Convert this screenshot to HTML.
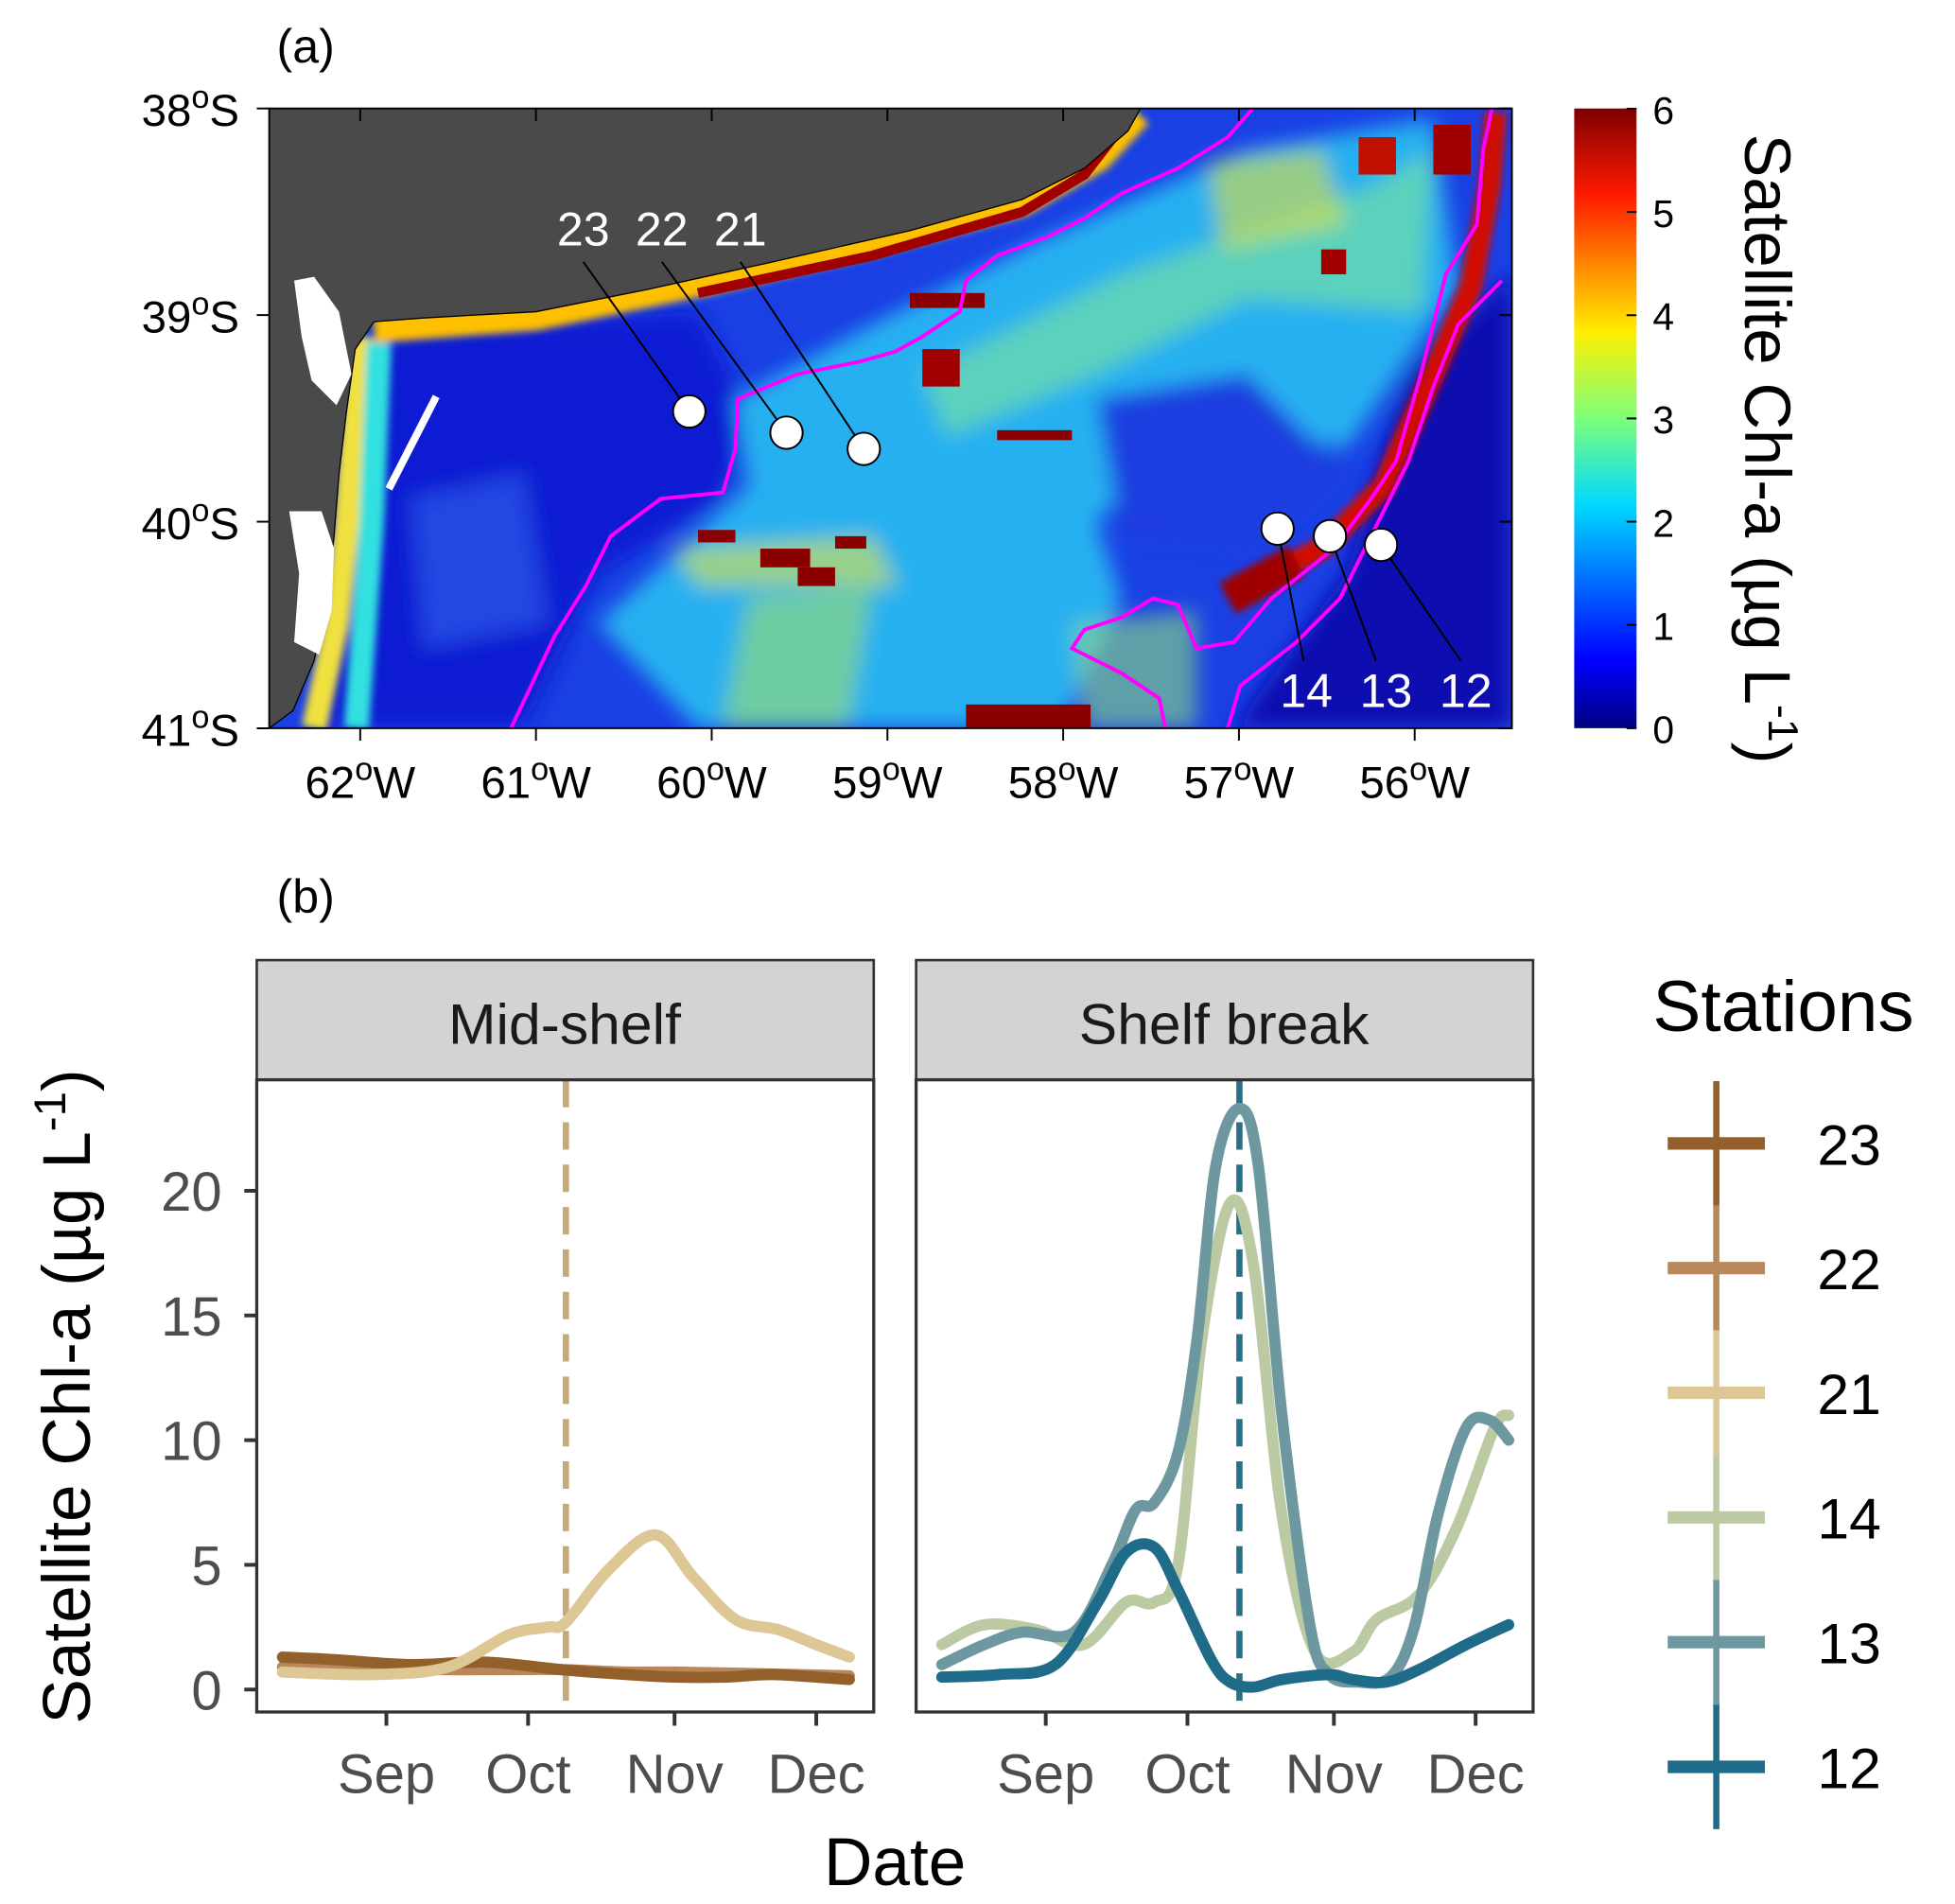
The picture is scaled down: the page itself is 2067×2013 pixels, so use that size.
<!DOCTYPE html>
<html><head><meta charset="utf-8">
<style>
html,body{margin:0;padding:0;background:#fff;}
svg{display:block;font-family:"Liberation Sans",sans-serif;}
</style></head>
<body>
<svg id="fig" width="2067" height="2013" viewBox="0 0 1568.5 1527" preserveAspectRatio="none" xmlns="http://www.w3.org/2000/svg">
<defs>
<linearGradient id="jet" x1="0" y1="1" x2="0" y2="0">
<stop offset="0" stop-color="#00007f"/><stop offset="0.11" stop-color="#0000ff"/>
<stop offset="0.36" stop-color="#00d8ff"/><stop offset="0.5" stop-color="#7dff7a"/>
<stop offset="0.64" stop-color="#ffee00"/><stop offset="0.86" stop-color="#ff1a00"/>
<stop offset="1" stop-color="#7f0000"/></linearGradient>
<filter id="bl" x="-20%" y="-20%" width="140%" height="140%"><feGaussianBlur stdDeviation="8"/></filter>
<filter id="bl2"><feGaussianBlur stdDeviation="3"/></filter>
<clipPath id="mapclip"><rect x="216" y="87" width="997" height="497"/></clipPath>
</defs>
<text x="222" y="50" font-size="38">(a)</text>
<g clip-path="url(#mapclip)">
<rect x="216" y="87" width="997" height="497" fill="#1a40e4"/>
<g filter="url(#bl)">
<polygon points="300,262 560,250 600,330 580,400 480,460 420,584 260,584" fill="#0a1ad2"/>
<polygon points="590,320 700,260 840,190 1000,120 1150,95 1170,230 1080,360 950,330 880,420 900,480 850,584 560,584 480,500 600,390" fill="#28b0f0"/>
<polygon points="740,300 900,220 1100,150 1150,120 1140,250 1000,240 880,300 760,350" fill="#7ee89a" opacity="0.6"/>
<polygon points="880,320 1000,300 1080,380 1010,440 900,430" fill="#1a3ce0"/>
<polygon points="1130,300 1213,220 1213,584 990,584 1080,460" fill="#0808b0"/>
<polygon points="540,440 700,430 720,470 560,470" fill="#c8e060" opacity="0.7"/>
<polygon points="600,480 700,470 680,584 580,584" fill="#9ce070" opacity="0.6"/>
<polygon points="860,500 960,490 960,584 870,584" fill="#8ee080" opacity="0.6"/>
<polygon points="330,400 420,380 440,500 340,520" fill="#2a5ae8" opacity="0.7"/>
<polygon points="970,130 1060,120 1080,180 980,200" fill="#e0e040" opacity="0.6"/>
</g>
<g filter="url(#bl2)">
<polyline points="300,262 430,252 560,225 700,192 820,160 880,125 912,90" fill="none" stroke="#ffc000" stroke-width="26"/>
<polyline points="290,270 284,340 278,420 270,500 252,584" fill="none" stroke="#f0e040" stroke-width="20"/>
<polyline points="304,275 298,420 286,584" fill="none" stroke="#30e0e0" stroke-width="20"/>
<polyline points="1000,470 1060,440 1110,390 1150,300 1180,230 1195,150 1200,90" fill="none" stroke="#d01000" stroke-width="18"/>
<polyline points="985,480 1040,450" fill="none" stroke="#a00000" stroke-width="28"/>
</g>
<polyline points="560,235 700,205 820,170 870,140 905,95" fill="none" stroke="#a00000" stroke-width="8"/>
<rect x="775" y="565" width="100" height="19" fill="#8a0000"/>
<rect x="560" y="425" width="30" height="10" fill="#8a0000"/><rect x="610" y="440" width="40" height="15" fill="#8a0000"/>
<rect x="640" y="455" width="30" height="15" fill="#8a0000"/><rect x="670" y="430" width="25" height="10" fill="#8a0000"/>
<rect x="800" y="345" width="60" height="8" fill="#8a0000"/><rect x="740" y="280" width="30" height="30" fill="#a00000"/>
<rect x="730" y="235" width="60" height="12" fill="#8a0000"/><rect x="1060" y="200" width="20" height="20" fill="#a00000"/>
<rect x="1090" y="110" width="30" height="30" fill="#c01000"/><rect x="1150" y="100" width="30" height="40" fill="#a00000"/>
<polygon points="216,87 915,87 905,105 870,135 820,160 730,185 620,210 520,232 430,250 340,255 300,258 285,280 278,330 272,380 268,430 262,480 252,530 235,570 216,584" fill="#4a4a4a" stroke="#000" stroke-width="1"/>
<polygon points="236,225 252,222 272,250 282,300 270,325 250,305 242,270" fill="#fff"/>
<polygon points="232,410 258,410 268,440 266,490 256,525 236,515 240,460" fill="#fff"/>
<polyline points="350,318 312,392" stroke="#fff" stroke-width="6"/>
<g fill="none" stroke="#ff00ff" stroke-width="3">
<polyline points="410,584 445,510 470,470 490,430 530,400 580,395 590,360 592,320 640,300 690,290 718,282 740,270 770,250 775,225 800,205 840,190 870,175 900,155 945,135 985,110 1005,87"/>
<polyline points="985,584 995,550 1040,515 1075,480 1100,430 1130,370 1150,310 1170,260 1205,225"/>
<polyline points="1197,87 1190,120 1185,180 1160,220 1140,300 1120,370 1100,400 1070,440 1020,480 990,515 960,520 945,485 925,480 900,495 870,505 860,520 900,540 930,560 935,584"/>
</g>
</g>
<rect x="216" y="87" width="997" height="497" fill="none" stroke="#000" stroke-width="1.5"/>
<g id="mapaxes"></g>
<g stroke="#000" stroke-width="1.5">
<line x1="468" y1="210" x2="553" y2="330"/><line x1="531" y1="210" x2="631" y2="347"/><line x1="594" y1="210" x2="693" y2="360"/>
<line x1="1025" y1="424" x2="1046" y2="530"/><line x1="1067" y1="430" x2="1104" y2="530"/><line x1="1108" y1="437" x2="1172" y2="530"/>
<circle cx="553" cy="330" r="13" fill="#fff"/><circle cx="631" cy="347" r="13" fill="#fff"/><circle cx="693" cy="360" r="13" fill="#fff"/>
<circle cx="1025" cy="424" r="13" fill="#fff"/><circle cx="1067" cy="430" r="13" fill="#fff"/><circle cx="1108" cy="437" r="13" fill="#fff"/>
</g>
<g fill="#fff" font-size="38" text-anchor="middle">
<text x="468" y="197">23</text><text x="531" y="197">22</text><text x="594" y="197">21</text>
<text x="1048" y="567">14</text><text x="1112" y="567">13</text><text x="1176" y="567">12</text>
</g>
<rect x="1263" y="87" width="50" height="497" fill="url(#jet)"/>
<g id="cbar"></g>
<text transform="translate(1400,360) rotate(90)" font-size="52" text-anchor="middle">Satellite Chl-a (µg L<tspan baseline-shift="super" font-size="34">-1</tspan>)</text>

<text x="222" y="732" font-size="38">(b)</text>
<g><rect x="206" y="770" width="495" height="96" fill="#d3d3d3" stroke="#333" stroke-width="2"/><text x="453" y="837" font-size="46" text-anchor="middle" fill="#1a1a1a">Mid-shelf</text></g>
<g><rect x="735" y="770" width="495" height="96" fill="#d3d3d3" stroke="#333" stroke-width="2"/><text x="982" y="837" font-size="46" text-anchor="middle" fill="#1a1a1a">Shelf break</text></g>
<g id="plots"></g>
<text transform="translate(72,1120) rotate(-90)" font-size="54" text-anchor="middle">Satellite Chl-a (µg L<tspan baseline-shift="super" font-size="36">-1</tspan>)</text>
<text x="718" y="1512" font-size="54" text-anchor="middle">Date</text>
<g id="legend"><text x="1326" y="827" font-size="58">Stations</text></g>
</svg>
<script>
const NS="http://www.w3.org/2000/svg";
function mk(tag,attrs,parent){const e=document.createElementNS(NS,tag);for(const k in attrs)e.setAttribute(k,attrs[k]);parent.appendChild(e);return e;}
const latTicks=[38,39,40,41];
const lonTicks=[62,61,60,59,58,57,56];
const ma=document.getElementById('mapaxes');
latTicks.forEach(v=>{const y=87+(v-38)*165.7;
 mk('line',{x1:216,x2:206,y1:y,y2:y,stroke:'#000','stroke-width':1.5},ma);
 mk('line',{x1:1213,x2:1203,y1:y,y2:y,stroke:'#000','stroke-width':1.5},ma);
 const t=mk('text',{x:192,y:y+14,'font-size':36,'text-anchor':'end'},ma);
 t.innerHTML=v+'<tspan baseline-shift="super" font-size="26">o</tspan>S';
 
 });
lonTicks.forEach(v=>{const x=289+(62-v)*141;
 mk('line',{x1:x,x2:x,y1:584,y2:594,stroke:'#000','stroke-width':1.5},ma);
 mk('line',{x1:x,x2:x,y1:87,y2:97,stroke:'#000','stroke-width':1.5},ma);
 const t=mk('text',{x:x,y:640,'font-size':36,'text-anchor':'middle'},ma);
 t.innerHTML=v+'<tspan baseline-shift="super" font-size="26">o</tspan>W';
 
 });
const cbTicks=[0,1,2,3,4,5,6];
const cb=document.getElementById('cbar');
cbTicks.forEach(v=>{const y=584-v*82.8;
 mk('line',{x1:1313,x2:1305,y1:y,y2:y,stroke:'#000','stroke-width':1.5},cb);
 const t=mk('text',{x:1326,y:y+12,'font-size':31},cb);t.textContent=v;
 
 });

// chart data (day of year, Chl-a µg/L)
const monthDoy=[244,274,305,335];
const monthLabels=['Sep','Oct','Nov','Dec'];
const yTicks=[0,5,10,15,20];
const d21=[222,241,257,270,278,282,291,301,309,318,327,335,342];
const v21=[0.7,0.6,0.9,2.2,2.5,2.7,4.8,6.2,4.5,2.8,2.4,1.8,1.3];
const d23=[222,233,249,265,281,295,305,316,326,342];
const v23=[1.3,1.2,1.0,1.1,0.8,0.6,0.5,0.5,0.6,0.4];
const d22=[222,240,255,270,281,295,305,320,342];
const v22=[0.9,0.85,0.8,0.8,0.8,0.7,0.7,0.65,0.55];
const d14=[222,231,242,252,261,267,272,277,283,288,294,301,309,314,323,331,339,342];
const v14=[1.8,2.6,2.4,1.8,3.5,3.5,5,14,19.5,17,7,1.5,1.5,2.8,3.8,6.5,10.5,11];
const d13=[222,231,239,250,258,263,267,272,276,280,285,289,294,300,304,310,317,322,327,333,338,342];
const v13=[1.0,1.8,2.3,2.3,5,7.2,7.5,9.5,14,21,23.3,21,11,2.5,0.6,0.3,0.5,2.5,7,10.5,10.8,10];
const d12=[222,234,246,255,261,267,272,279,283,288,294,304,309,316,323,333,342];
const v12=[0.5,0.6,1.0,3.5,5.5,5.7,4,1.2,0.3,0.1,0.4,0.6,0.4,0.3,0.8,1.8,2.6];
const peakLeft=282, peakRight=285;

const plots=document.getElementById('plots');
const panels=[{x0:206,ref:310,name:'mid-shelf'},{x0:735,ref:839,name:'shelf-break'}];
const yS=v=>1355-20*v;
function smooth(pts){let d='M'+pts[0][0]+','+pts[0][1];
 for(let i=0;i<pts.length-1;i++){const p0=pts[i-1]||pts[i],p1=pts[i],p2=pts[i+1],p3=pts[i+2]||p2;
 d+=' C'+(p1[0]+(p2[0]-p0[0])/6)+','+(p1[1]+(p2[1]-p0[1])/6)+' '+(p2[0]-(p3[0]-p1[0])/6)+','+(p2[1]-(p3[1]-p1[1])/6)+' '+p2[0]+','+p2[1];}
 return d;}
panels.forEach((p,pi)=>{
 const g=mk('g',{},plots);
 
 
 const xS=d=>p.ref+(d-244)*3.79;
 mk('rect',{x:p.x0,y:866,width:495,height:507,fill:'#fff'},g);
 monthDoy.forEach((d,i)=>{const x=xS(d);
  mk('line',{x1:x,x2:x,y1:1373,y2:1384,stroke:'#333','stroke-width':3},g);
  const t=mk('text',{x:x,y:1438,'font-size':44,'text-anchor':'middle',fill:'#4d4d4d'},g);t.textContent=monthLabels[i];
  
  });
 if(pi===0){yTicks.forEach(v=>{const y=yS(v);
  mk('line',{x1:196,x2:206,y1:y,y2:y,stroke:'#333','stroke-width':3},g);
  const t=mk('text',{x:178,y:y+16,'font-size':44,'text-anchor':'end',fill:'#4d4d4d'},g);t.textContent=v;
  
  });}
 const series=pi===0?[[d22,v22,'#b8875a','22'],[d23,v23,'#93602c','23'],[d21,v21,'#dcc795','21']]
  :[[d14,v14,'#bccaa4','14'],[d13,v13,'#6e98a0','13'],[d12,v12,'#1f6c8a','12']];
 const pk=pi===0?peakLeft:peakRight;
 const dl=mk('line',{x1:xS(pk),x2:xS(pk),y1:866,y2:1373,stroke:pi===0?'#c7a878':'#2a6f88','stroke-width':5,'stroke-dasharray':'22,12'},g);
 
 
 series.forEach(s=>{const pts=s[0].map((d,i)=>[xS(d),yS(s[1][i])]);
  const path=mk('path',{d:smooth(pts),fill:'none',stroke:s[2],'stroke-width':9,'stroke-linecap':'round','stroke-linejoin':'round'},g);
  
  });
 mk('rect',{x:p.x0,y:866,width:495,height:507,fill:'none',stroke:'#333','stroke-width':2.5},g);
});
const legLabels=['23','22','21','14','13','12'];
const legColors=['#93602c','#b8875a','#dcc795','#bccaa4','#6e98a0','#1f6c8a'];
const lg=document.getElementById('legend');
legLabels.forEach((l,i)=>{const yc=917+i*100;
 const e=mk('g',{},lg);
 
 
 mk('line',{x1:1377,x2:1377,y1:yc-50,y2:yc+50,stroke:legColors[i],'stroke-width':5},e);
 mk('line',{x1:1338,x2:1416,y1:yc,y2:yc,stroke:legColors[i],'stroke-width':10},e);
 const t=mk('text',{x:1458,y:yc+17,'font-size':46},e);t.textContent=l;});
</script>
</body></html>
